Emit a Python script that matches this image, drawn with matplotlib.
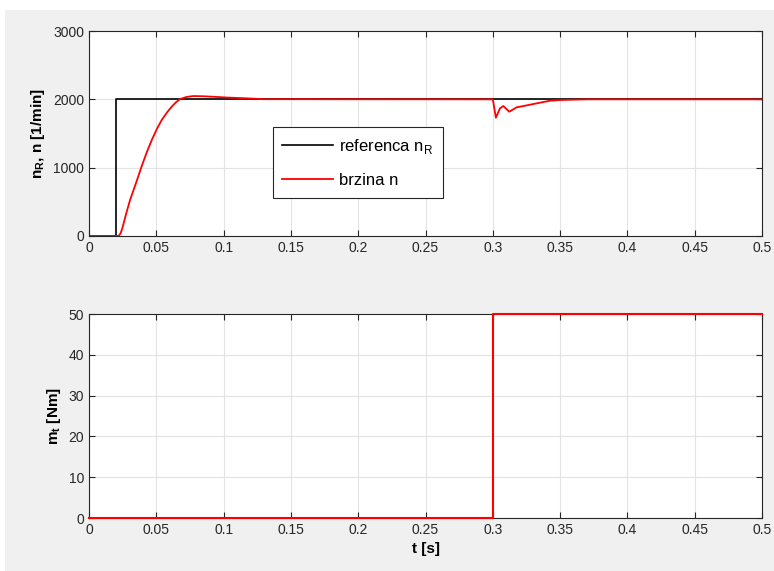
import numpy as np
import matplotlib
import matplotlib.pyplot as plt
from matplotlib.patches import Rectangle

matplotlib.use("Agg")
plt.rcParams['font.family'] = ['Liberation Sans', 'DejaVu Sans']

# reference speed (step at 0.02 s)
t_ref = [0, 0.02, 0.02, 0.5]
n_ref = [0, 0, 2000, 2000]

t_n = [0, 0.022, 0.0235, 0.025, 0.0275, 0.0305, 0.035, 0.039, 0.043, 0.0466,
       0.0505, 0.054, 0.058, 0.0614, 0.0645, 0.0676, 0.0725, 0.0775, 0.085,
       0.092, 0.104, 0.117, 0.13, 0.3,
       0.3023, 0.3053, 0.3078, 0.3122, 0.3177, 0.3227, 0.3326, 0.3425,
       0.35, 0.37, 0.5]
n_n = [0, 0, 40, 130, 320, 527, 780, 1014, 1230, 1404,
       1570, 1697, 1810, 1892, 1955, 2004, 2035, 2048, 2045,
       2038, 2025, 2015, 2002, 2000,
       1731, 1868, 1902, 1819, 1883, 1902, 1941, 1980,
       1990, 2000, 2000]

# load torque
t_m = [0, 0.3, 0.3, 0.5]
m_t = [0, 0, 50, 50]

xticks = np.arange(0, 0.5001, 0.05)
xlabels = ['0', '0.05', '0.1', '0.15', '0.2', '0.25', '0.3', '0.35', '0.4', '0.45', '0.5']

fig = plt.figure(figsize=(7.74, 5.71), dpi=100, facecolor='white')
fig.patches.append(Rectangle((5 / 774, 0), 1, 1 - 10 / 571, transform=fig.transFigure,
                             facecolor='#f0f0f0', edgecolor='none', zorder=-10))

ax1 = fig.add_axes([0.115, 0.5867, 0.8695, 0.359])
ax2 = fig.add_axes([0.115, 0.0928, 0.8695, 0.357])

ax1.plot(t_ref, n_ref, color='black', linewidth=1.2, label='referenca n$_\\mathregular{R}$')
ax1.plot(t_n, n_n, color='#ff0000', linewidth=1.3, label='brzina n')
ax1.set_ylim(0, 3000)
ax1.set_yticks([0, 1000, 2000, 3000])
ax1.set_ylabel('n$_\\mathregular{R}$, n [1/min]', fontweight='bold', fontsize=11)
leg = ax1.legend(loc='upper left', bbox_to_anchor=(0.273, 0.532), borderaxespad=0,
                 fancybox=False, framealpha=1, edgecolor='#262626', fontsize=12,
                 handlelength=3.05, handletextpad=0.35, borderpad=0.58,
                 labelspacing=1.04)
leg.get_frame().set_linewidth(0.8)

ax2.plot(t_m, m_t, color='#ff0000', linewidth=1.5, clip_on=False, zorder=5)
ax2.set_ylim(0, 50)
ax2.set_yticks([0, 10, 20, 30, 40, 50])
ax2.set_ylabel('m$_\\mathregular{t}$ [Nm]', fontweight='bold', fontsize=11)
ax2.set_xlabel('t [s]', fontweight='bold', fontsize=11)

for ax in (ax1, ax2):
    ax.set_xlim(0, 0.5)
    ax.set_xticks(xticks)
    ax.set_xticklabels(xlabels)
    ax.grid(True, color='#e3e3e3', linewidth=0.8)
    ax.set_axisbelow(True)
    ax.tick_params(direction='in', top=True, right=True, length=4,
                   labelsize=10, colors='#262626', labelcolor='#262626')
    for s in ax.spines.values():
        s.set_color('#262626')
        s.set_linewidth(0.8)
        s.set_zorder(2)

fig.savefig('out.png', dpi=100, facecolor=fig.get_facecolor())
